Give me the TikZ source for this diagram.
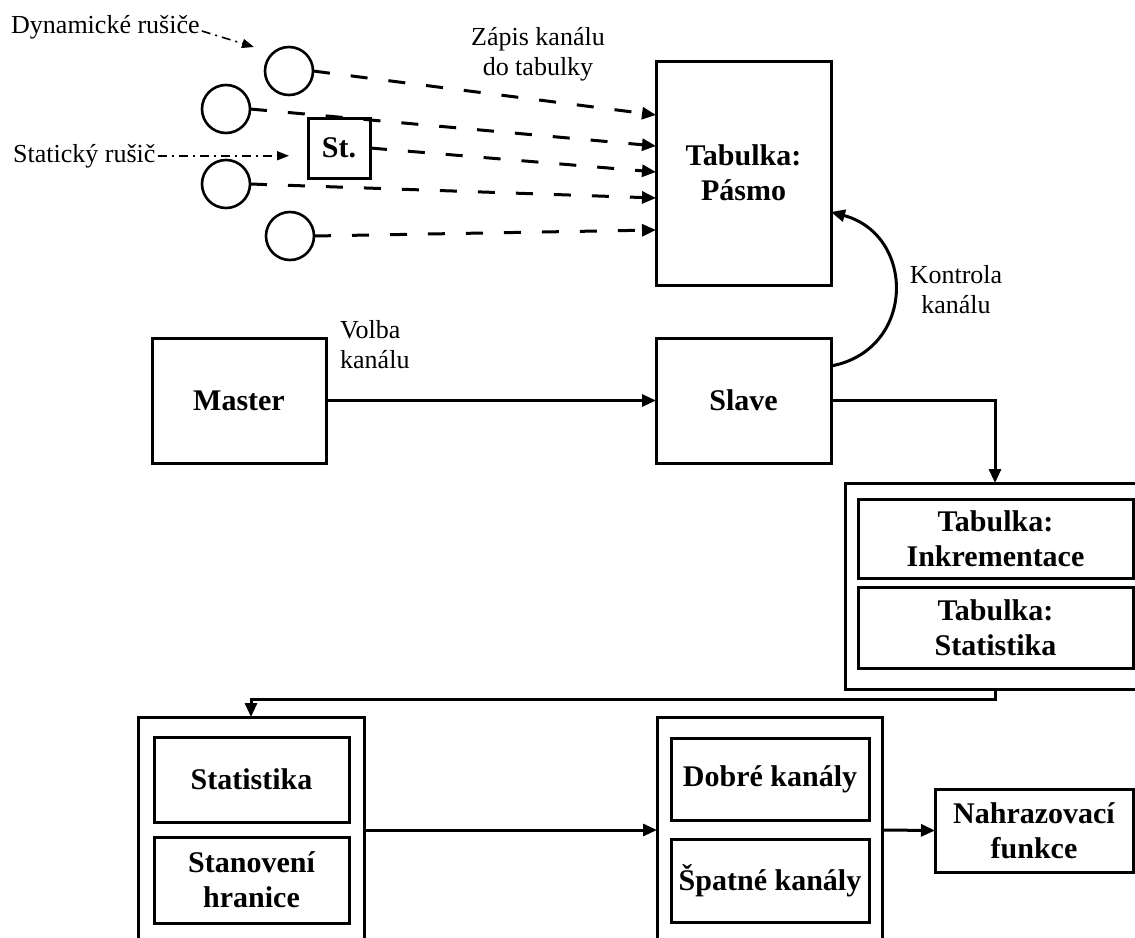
\documentclass[tikz,border=0pt]{standalone}
\usepackage{fontspec}
\setmainfont{Liberation Serif}
\usetikzlibrary{arrows.meta}
\newcommand\myBold{\fontsize{30}{35}\selectfont\bfseries}
\newcommand\myReg{\fontsize{26}{30}\selectfont}
\begin{document}
\begin{tikzpicture}[x=1pt,y=-1pt,
 blk/.style={draw, line width=3pt, font=\myBold, align=center, inner sep=0pt, outer sep=0pt},
 grp/.style={draw, line width=3pt, inner sep=0pt, outer sep=0pt},
 disc/.style={draw, circle, line width=2.6pt, minimum size=48pt, inner sep=0pt, outer sep=0pt},
 lbl/.style={font=\myReg, inner sep=0pt},
 dsh/.style={line width=3pt, dash pattern=on 17pt off 21pt, -{Triangle[length=14pt,width=12pt]}},
 conn/.style={line width=3pt, -{Triangle[length=14pt,width=12pt]}},
 ptr/.style={line width=1.6pt, dash pattern=on 9pt off 5pt on 2pt off 5pt, -{Triangle[length=12pt,width=9pt]}}]
\useasboundingbox (0,0) rectangle (1135,937);
\clip (0,0) rectangle (1135,937);

% boxes
\node[blk, minimum width=175pt, minimum height=224pt] (tab) at (743.5,173) {Tabulka:\\Pásmo};
\node[blk, minimum width=174pt, minimum height=125pt] (master) at (239,400.5) {Master};
\node[blk, minimum width=175pt, minimum height=125pt] (slave) at (743.5,400.5) {Slave};
\node[grp, minimum width=300pt, minimum height=206pt] (tgrp) at (995,586) {};
\node[blk, minimum width=275pt, minimum height=79pt] (inkr) at (995.5,538.5) {Tabulka:\\Inkrementace};
\node[blk, minimum width=275pt, minimum height=81pt] (tstat) at (995.5,627.5) {Tabulka:\\Statistika};
\node[grp, minimum width=226pt, minimum height=226pt] (sgrp) at (251,830) {};
\node[blk, minimum width=195pt, minimum height=85pt] (stat) at (251.5,779.5) {Statistika};
\node[blk, minimum width=195pt, minimum height=86pt] (hran) at (251.5,880) {Stanovení\\hranice};
\node[grp, minimum width=225pt, minimum height=226pt] (kgrp) at (769.5,830) {};
\node[blk, minimum width=198pt, minimum height=82pt] (dobre) at (770,779) {Dobré kanály};
\node[blk, minimum width=198pt, minimum height=83pt] (spatne) at (770,880.5) {Špatné kanály};
\node[blk, minimum width=198pt, minimum height=83pt] (nahr) at (1034,830.5) {Nahrazovací\\funkce};
\node[blk, minimum width=62pt, minimum height=60pt] (st) at (339,148) {St.};

% jammers
\node[disc] (c1) at (289,71) {};
\node[disc] (c2) at (226,109) {};
\node[disc] (c3) at (226,184) {};
\node[disc] (c4) at (290,236) {};

% labels
\node[lbl, anchor=base west] (dyn) at (11,33) {Dynamické rušiče};
\node[lbl, anchor=base west] (stl) at (13,162) {Statický rušič};
\node[lbl, align=center] (zap) at (538,54) {Zápis kanálu\\do tabulky};
\node[lbl, align=left, anchor=west] (vol) at (340,345) {Volba\\kanálu};
\node[lbl, align=center] (kon) at (956,290) {Kontrola\\kanálu};

\coordinate (dynend) at (254,47);
\draw[ptr] ([xshift=2pt,yshift=2pt]dyn.base east) -- (dynend);
\draw[ptr, shorten >=19pt] ([xshift=2pt]stl.east) -- (stl.east -| st.west);

% dashed writes
\draw[dsh] (c1.east) -- ([yshift=-54pt]tab.north west);
\draw[dsh] (c2.east) -- ([yshift=-85pt]tab.north west);
\draw[dsh] (st.east) -- ([yshift=-111pt]tab.north west);
\draw[dsh] (c3.east) -- ([yshift=-137pt]tab.north west);
\draw[dsh] (c4.east) -- ([yshift=-169pt]tab.north west);

% main flow
\draw[conn] (master.east) -- (slave.west);
\draw[conn] ([yshift=-28pt]slave.north east) .. controls (916,350) and (916,235) .. ([yshift=-151pt]tab.north east);
\draw[conn] (slave.east) -| (tgrp.north);
\draw[conn] (tgrp.south) -- ++(0,10) -| (sgrp.north);
\draw[conn] (sgrp.east) -- (kgrp.west);
\draw[conn] (kgrp.east) -- (nahr.west);
\end{tikzpicture}
\end{document}
